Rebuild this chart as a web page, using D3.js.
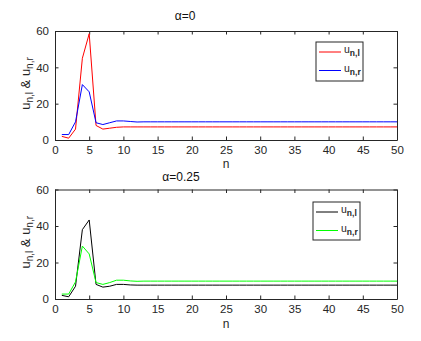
<!DOCTYPE html>
<html><head><meta charset="utf-8">
<script src="https://cdn.jsdelivr.net/npm/d3@7"></script>
<style>body{margin:0;background:#fff}svg{display:block}text{font-family:"Liberation Sans",Arial,sans-serif}</style>
</head><body><svg id="c" width="421" height="341"></svg>
<script>
const n = d3.range(1, 51);
const xTicks = [0,5,10,15,20,25,30,35,40,45,50];
const yTicks = [0,20,40,60];
const top_ul = [2,1,6,45,58.5,8,6,6.5,7,7.2,7.2,7.2,7.2,7.2,7.2,7.2,7.2,7.2,7.2,7.2,7.2,7.2,7.2,7.2,7.2,7.2,7.2,7.2,7.2,7.2,7.2,7.2,7.2,7.2,7.2,7.2,7.2,7.2,7.2,7.2,7.2,7.2,7.2,7.2,7.2,7.2,7.2,7.2,7.2,7.2];
const top_ur = [3,3,10,30.5,26.5,9.5,8.5,9.5,10.5,10.5,10.2,9.9,10,10,10,10,10,10,10,10,10,10,10,10,10,10,10,10,10,10,10,10,10,10,10,10,10,10,10,10,10,10,10,10,10,10,10,10,10,10];
const bot_ul = [2,1.2,7,38,43.3,8,6.5,7,8,8,7.7,7.6,7.6,7.6,7.6,7.6,7.6,7.6,7.6,7.6,7.6,7.6,7.6,7.6,7.6,7.6,7.6,7.6,7.6,7.6,7.6,7.6,7.6,7.6,7.6,7.6,7.6,7.6,7.6,7.6,7.6,7.6,7.6,7.6,7.6,7.6,7.6,7.6,7.6,7.6];
const bot_ur = [2.7,2.7,9.4,29,24.7,9,8,9,10.3,10.3,9.9,9.7,9.8,9.8,9.8,9.8,9.8,9.8,9.8,9.8,9.8,9.8,9.8,9.8,9.8,9.8,9.8,9.8,9.8,9.8,9.8,9.8,9.8,9.8,9.8,9.8,9.8,9.8,9.8,9.8,9.8,9.8,9.8,9.8,9.8,9.8,9.8,9.8,9.8,9.8];
const panels = [
  {title:"α=0", l:top_ul, r:top_ur, cl:"#ff0000", cr:"#0000ff", y0:31, y1:140, leg:[316,42,47,39], tx:185, ty:20, nx:226, ny:168},
  {title:"α=0.25", l:bot_ul, r:bot_ur, cl:"#000000", cr:"#00ff00", y0:189.5, y1:299, leg:[313,202,47,38], tx:181, ty:181, nx:226, ny:328}
];
const svg = d3.select("#c");
const X0 = 55, X1 = 397;
panels.forEach(p => {
  const x = d3.scaleLinear().domain([0,50]).range([X0,X1]);
  const y = d3.scaleLinear().domain([0,60]).range([p.y1,p.y0]);
  const g = svg.append("g");
  g.append("rect").attr("x",X0).attr("y",p.y0).attr("width",X1-X0).attr("height",p.y1-p.y0).attr("fill","#fff");
  const style = s => { s.select(".domain").attr("stroke","#262626"); s.selectAll(".tick line").attr("stroke","#262626"); s.selectAll("text").attr("font-size","11.5px").attr("fill","#262626"); };
  g.append("g").attr("transform",`translate(0,${p.y1})`).call(d3.axisBottom(x).tickValues(xTicks).tickSizeInner(-3.5).tickSizeOuter(0).tickPadding(6)).call(style);
  g.append("g").attr("transform",`translate(0,${p.y0})`).call(d3.axisTop(x).tickValues(xTicks).tickSizeInner(-3.5).tickSizeOuter(0).tickFormat("")).call(style);
  g.append("g").attr("transform",`translate(${X0},0)`).call(d3.axisLeft(y).tickValues(yTicks).tickSizeInner(-3.5).tickSizeOuter(0).tickPadding(6)).call(style);
  g.append("g").attr("transform",`translate(${X1},0)`).call(d3.axisRight(y).tickValues(yTicks).tickSizeInner(-3.5).tickSizeOuter(0).tickFormat("")).call(style);
  const line = arr => d3.line().x((d,i)=>x(n[i])).y(d=>y(d))(arr);
  g.append("path").attr("d",line(p.l)).attr("fill","none").attr("stroke",p.cl).attr("stroke-width",1);
  g.append("path").attr("d",line(p.r)).attr("fill","none").attr("stroke",p.cr).attr("stroke-width",1);
  g.append("text").attr("x",p.tx).attr("y",p.ty).attr("text-anchor","middle").attr("font-size","12px").attr("fill","#111").text(p.title);
  g.append("text").attr("x",p.nx).attr("y",p.ny).attr("text-anchor","middle").attr("font-size","12px").attr("fill","#262626").text("n");
  // y label
  const yl = g.append("text").attr("transform",`translate(30,${(p.y0+p.y1)/2 - 2}) rotate(-90)`).attr("text-anchor","middle").attr("font-size","13px").attr("fill","#262626");
  yl.append("tspan").text("u");
  yl.append("tspan").attr("font-size","10px").attr("dy","3").text("n,l");
  yl.append("tspan").attr("dy","-3").text(" & u");
  yl.append("tspan").attr("font-size","10px").attr("dy","3").text("n,r");
  // legend
  const [lx,ly,lw,lh] = p.leg;
  g.append("rect").attr("x",lx).attr("y",ly).attr("width",lw).attr("height",lh).attr("fill","#fff").attr("stroke","#262626").attr("stroke-width",1);
  [[p.cl,"n,l"],[p.cr,"n,r"]].forEach(([c,s],i) => {
    const yy = ly + 10 + i*18.5;
    g.append("line").attr("x1",lx+3).attr("x2",lx+25).attr("y1",yy).attr("y2",yy).attr("stroke",c).attr("stroke-width",1);
    const t = g.append("text").attr("x",lx+28).attr("y",yy+1).attr("font-size","10.5px").attr("fill","#262626");
    t.append("tspan").text("u");
    t.append("tspan").attr("font-size","8.5px").attr("dy","3").attr("font-weight","bold").text(s);
  });
});
</script></body></html>
